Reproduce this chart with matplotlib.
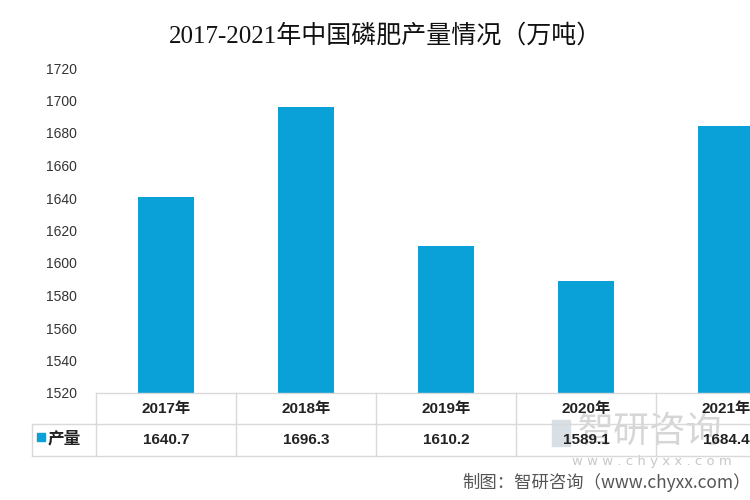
import matplotlib; matplotlib.use("Agg")
import matplotlib.pyplot as plt, numpy as np
import matplotlib.transforms as mtrans

plt.rcParams["font.family"] = ["DejaVu Sans", "Noto Sans CJK SC"]

years = ["2017年", "2018年", "2019年", "2020年", "2021年"]
output = [1640.7, 1696.3, 1610.2, 1589.1, 1684.4]
series_name = "产量"
title = "2017-2021年中国磷肥产量情况（万吨）"
yticks = np.arange(1520, 1721, 20)

BAR = "#0aa1d8"; GRID = "#d9d9d9"
fig = plt.figure(figsize=(7.5, 5), dpi=100)

# watermark + source (behind everything)
fig.text(578/750, 1-432/500, "智研咨询", ha="left", va="center", fontsize=26,
         family=["Noto Sans CJK SC"], color="#d6d6d6", zorder=-5)
fig.patches.append(plt.Rectangle((552/750, 1-446/500), 18/750, 26/500, color="#d8dfe5",
                                 transform=fig.transFigure, zorder=-5))
fig.text(572/750, 1-462/500, "w w w . c h y x x . c o m", ha="left", va="center",
         fontsize=9.5, color="#c8c8c8", zorder=-5)
fig.text(462/750, 1-482/500, "制图：智研咨询（www.chyxx.com）", ha="left", va="center",
         fontsize=12.5, family=["Noto Sans CJK SC"], color="#555555")

ax = fig.add_axes([96/750, 1-393/500, 700/750, 325/500])
ax.patch.set_visible(False)
x = np.arange(len(years))
ax.bar(x, output, width=0.4, color=BAR, zorder=2)
ax.set_xlim(-0.5, len(years)-0.5)
ax.set_ylim(yticks[0], yticks[-1])
ax.set_yticks(yticks)
ax.set_yticklabels([str(v) for v in yticks], fontsize=10, color="#333333",
                   family=["Liberation Sans", "DejaVu Sans"])
ax.tick_params(axis="y", length=0, pad=14)
ax.set_xticks([])
for s in ax.spines.values(): s.set_visible(False)

# data table under the plot
tr = mtrans.blended_transform_factory(ax.transData, ax.transAxes)
r1, r2 = -31/325, -63/325
left = -0.5 - (96-32)/140
kw = dict(color=GRID, lw=1, transform=tr, clip_on=False)
ax.plot([-0.5, len(years)-0.5], [0, 0], **kw)
ax.plot([left, len(years)-0.5], [r1, r1], **kw)
ax.plot([left, len(years)-0.5], [r2, r2], **kw)
ax.plot([left, left], [r1, r2], **kw)
for b in np.arange(len(years)) - 0.5:
    ax.plot([b, b], [0, r2], **kw)
fb = ["Liberation Sans", "Noto Sans CJK SC"]
for i, (yr, v) in enumerate(zip(years, output)):
    ax.text(i, r1/2, yr, transform=tr, ha="center", va="center", fontsize=11,
            fontweight="bold", family=fb, color="#222222", clip_on=False, zorder=5)
    ax.text(i, (r1+r2)/2, f"{v:.1f}", transform=tr, ha="center", va="center",
            fontsize=11, fontweight="bold", family=fb, color="#222222", clip_on=False, zorder=5)
fig.patches.append(plt.Rectangle((37/750, 1-441/500), 8/750, 8/500, color=BAR,
                                 transform=fig.transFigure))
fig.text(48/750, 1-438/500, series_name, ha="left", va="center", fontsize=12,
         fontweight="bold", family=["Noto Sans CJK SC"], color="#222222")

fig.text(385/750, 1-36/500, title, ha="center", va="center", fontsize=18,
         family=["Liberation Serif", "Noto Sans CJK SC"], color="#111111")

fig.savefig("out.png", dpi=100)
